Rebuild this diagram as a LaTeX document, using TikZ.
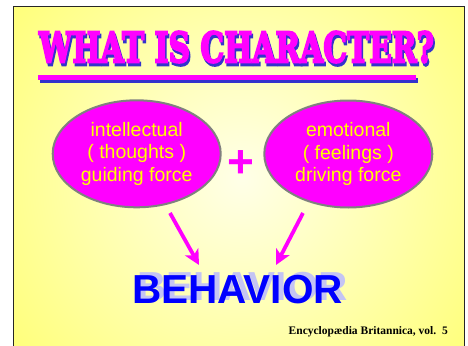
\documentclass[tikz,border=0pt]{standalone}
\usepackage{fontspec}
\setmainfont{Liberation Sans}
\newfontfamily\titlefont[FakeBold=5]{DejaVu Serif Bold}
\newfontfamily\timesfont{Liberation Serif}
\usetikzlibrary{shapes.geometric,arrows.meta}
\definecolor{bgyellow}{HTML}{FFFF66}
\definecolor{bglight}{HTML}{FFFFE8}
\definecolor{mag}{HTML}{FF00FF}
\definecolor{shadowblue}{HTML}{3333CC}
\definecolor{behblue}{HTML}{0000FF}
\definecolor{behshadow}{HTML}{C4C4F4}
\definecolor{txtyellow}{HTML}{FFFF00}
\definecolor{rimgray}{HTML}{808080}
\tikzset{
  oval/.style={ellipse, fill=mag, draw=rimgray, line width=2pt,
    minimum width=168pt, minimum height=107pt, inner sep=0pt,
    text=txtyellow, font=\fontsize{19.5}{22.5}\selectfont, align=center},
  titletext/.style={inner sep=0pt, font=\titlefont},
  behtext/.style={inner sep=0pt, font=\fontsize{40.5}{40}\selectfont\bfseries},
  magarrow/.style={draw=mag, line width=3.8pt, -{Stealth[length=15pt,width=15pt,inset=4pt]}}
}
\begin{document}
\begin{tikzpicture}[x=1pt,y=-1pt]
\useasboundingbox (0,0) rectangle (468,345);
\fill[white] (0,0) rectangle (468,345);
\begin{scope}
  \clip (13,7) rectangle (464.5,346);
  \shade[inner color=bglight, outer color=bgyellow] (242,178) circle (340);
\end{scope}
\draw[line width=1pt, black!85] (13,350) -- (13,7) -- (464.5,7) -- (464.5,350);
% title with blue shadow
\node[titletext, text=shadowblue] (titleshadow) at (238,50) {\resizebox{395pt}{31pt}{WHAT IS CHARACTER?}};
\node[titletext, text=mag] (title) at (236.5,47) {\resizebox{395pt}{31pt}{WHAT IS CHARACTER?}};
% underline
\fill[shadowblue] (40,78) rectangle (418,83);
\fill[mag] (38,75) rectangle (416,80);
% ovals
\node[oval] (intel) at (136.7,153.8) {intellectual\\( thoughts )\\guiding force};
\node[oval] (emot) at (348.3,154) {emotional\\( feelings )\\driving force};
\node[inner sep=0pt, text=mag, font=\fontsize{46}{46}\selectfont\bfseries] (plus) at (241,164) {+};
% behavior with light shadow
\node[behtext, text=behshadow] (behshadow) at (242.5,286.5) {BEHAVIOR};
\node[behtext, text=behblue] (behavior) at (237.5,289.5) {BEHAVIOR};
% arrows
\coordinate (l1) at (170,213);
\coordinate (l2) at (199,265);
\coordinate (r1) at (303,213);
\coordinate (r2) at (276,265);
\draw[magarrow] (l1) -- (l2);
\draw[magarrow] (r1) -- (r2);
% footer
\node[inner sep=0pt, anchor=base east, font=\timesfont\bfseries\fontsize{11.5}{12}\selectfont] (src) at (448,334) {Encyclop\ae dia Britannica, vol.\ \ 5};
\end{tikzpicture}
\end{document}
